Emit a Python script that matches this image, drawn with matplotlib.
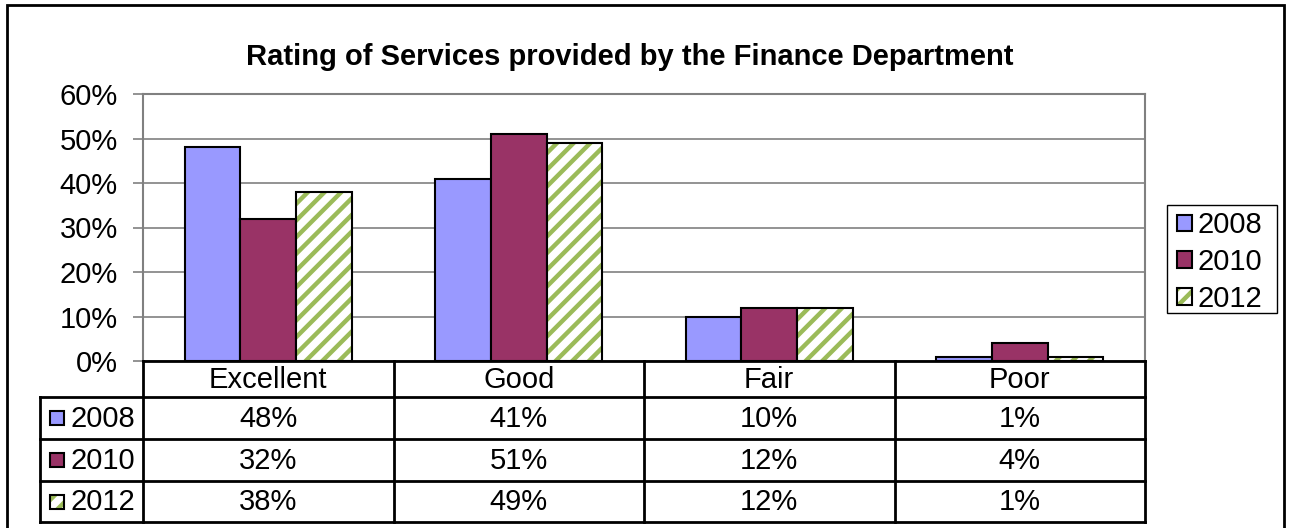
import numpy as np
import matplotlib
matplotlib.use("Agg")
import matplotlib.pyplot as plt
from matplotlib.patches import Rectangle

categories = ["Excellent", "Good", "Fair", "Poor"]
years = ["2008", "2010", "2012"]
rating_2008 = [48, 41, 10, 1]
rating_2010 = [32, 51, 12, 4]
rating_2012 = [38, 49, 12, 1]

plt.rcParams['font.family'] = ['Liberation Sans', 'DejaVu Sans']
plt.rcParams['hatch.linewidth'] = 3.2

C2008 = '#9999FF'
C2010 = '#993366'
CHATCH = '#9BBB59'
GRID = '#808080'
FS = 21
HATCH = '//'

W, H = 1290, 528
fig = plt.figure(figsize=(W / 100, H / 100), dpi=100)


def box(l, t, r, b):
    return [l / W, 1 - b / H, (r - l) / W, (b - t) / H]


# outer chart border
fig.add_artist(Rectangle((7 / W, -0.05), (1284 - 7) / W, 1.05 - 5 / H,
                         transform=fig.transFigure, fill=False,
                         edgecolor='black', linewidth=2))

fig.text(630 / W, 1 - 57 / H, "Rating of Services provided by the Finance Department",
         ha='center', va='center', fontsize=21, fontweight='bold')

# bar chart
ax = fig.add_axes(box(143, 94, 1145, 361))
x = np.arange(len(categories))
bw = 2 / 9
ax.bar(x - bw, rating_2008, bw, color=C2008, edgecolor='black', linewidth=1.5,
       label=years[0], zorder=3)
ax.bar(x, rating_2010, bw, color=C2010, edgecolor='black', linewidth=1.5,
       label=years[1], zorder=3)
ax.bar(x + bw, rating_2012, bw, color='white', edgecolor=CHATCH, hatch=HATCH,
       linewidth=0, zorder=3)
ax.bar(x + bw, rating_2012, bw, fill=False, edgecolor='black', linewidth=1.5,
       zorder=3)

ax.set_xlim(-0.5, len(categories) - 0.5)
ax.set_ylim(0, 60)
ax.set_yticks(np.arange(0, 61, 10))
ax.set_yticklabels([f"{v}%" for v in range(0, 61, 10)], fontsize=FS)
ax.set_xticks([])
ax.yaxis.grid(True, color=GRID, linewidth=1.2, zorder=0)
ax.tick_params(axis='y', length=7, width=1.2, color=GRID, pad=11)
for side in ['left', 'right', 'top']:
    ax.spines[side].set_color(GRID)
    ax.spines[side].set_linewidth(1.5)
ax.spines['bottom'].set_visible(False)

# legend, with its own frame box
fig.add_artist(Rectangle(((1167) / W, 1 - 313 / H), 110 / W, 108 / H,
                         transform=fig.transFigure, fill=False,
                         edgecolor='black', linewidth=1.0))
h2012 = Rectangle((0, 0), 1, 1, facecolor='white', edgecolor=CHATCH, hatch=HATCH,
                  linewidth=0)
h2012b = Rectangle((0, 0), 1, 1, fill=False, edgecolor='black', linewidth=1.5)
handles, _ = ax.get_legend_handles_labels()
leg = fig.legend(handles + [(h2012, h2012b)], years,
                 loc='center', bbox_to_anchor=(1220 / W, 1 - 262 / H),
                 fontsize=FS, frameon=False,
                 handlelength=0.5, handleheight=0.5, handletextpad=0.2,
                 labelspacing=0.3, borderpad=0, borderaxespad=0)

# data table under the bars
ax_t = fig.add_axes(box(40, 361, 1145, 522))
px_per_cat = (1145 - 143) / len(categories)
label_w = (143 - 40) / px_per_cat
left = -0.5 - label_w
right = len(categories) - 0.5
rows = [0, 36, 78, 120, 161]
ax_t.set_xlim(left, right)
ax_t.set_ylim(161, 0)
ax_t.axis('off')

lk = dict(color='black', linewidth=2, clip_on=False, solid_capstyle='projecting')
ax_t.plot([-0.5, right], [rows[0], rows[0]], **lk)
for yy in rows[1:]:
    ax_t.plot([left, right], [yy, yy], **lk)
for xx in np.arange(-0.5, right + 0.01, 1.0):
    ax_t.plot([xx, xx], [rows[0], rows[-1]], **lk)
ax_t.plot([left, left], [rows[1], rows[-1]], **lk)

for i, cat in enumerate(categories):
    ax_t.text(i, (rows[0] + rows[1]) / 2 + 1, cat, ha='center', va='center',
              fontsize=FS)

series = [rating_2008, rating_2010, rating_2012]
styles = [dict(facecolor=C2008), dict(facecolor=C2010),
          dict(facecolor='white', hatch=HATCH)]
sw = 14 / px_per_cat
for r, (yr, vals, st) in enumerate(zip(years, series, styles)):
    yc = (rows[r + 1] + rows[r + 2]) / 2
    sx = left + 10 / px_per_cat
    if 'hatch' in st:
        ax_t.add_patch(Rectangle((sx, yc - 7), sw, 14, facecolor='white',
                                 edgecolor=CHATCH, hatch=HATCH, linewidth=0))
        ax_t.add_patch(Rectangle((sx, yc - 7), sw, 14, fill=False,
                                 edgecolor='black', linewidth=1.5))
    else:
        ax_t.add_patch(Rectangle((sx, yc - 7), sw, 14, edgecolor='black',
                                 linewidth=1.5, **st))
    ax_t.text(sx + sw + 6 / px_per_cat, yc + 1, yr, ha='left', va='center',
              fontsize=FS)
    for i, v in enumerate(vals):
        ax_t.text(i, yc + 1, f"{v}%", ha='center', va='center', fontsize=FS)

fig.savefig("out.png", dpi=100)
